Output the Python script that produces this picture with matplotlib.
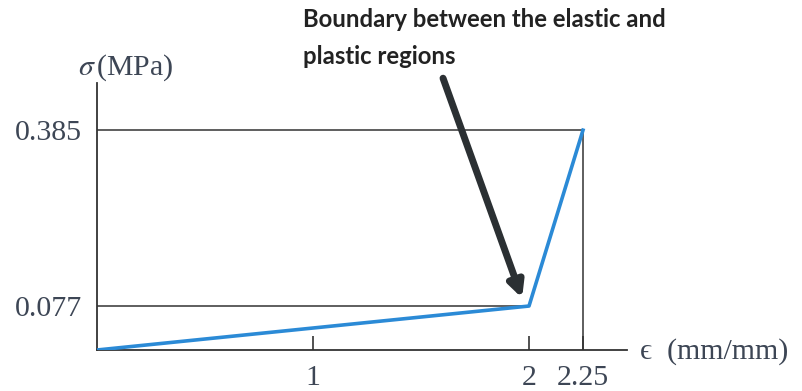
import matplotlib
matplotlib.use("Agg")
import matplotlib.pyplot as plt

# data
strain = [0.0, 2.0, 2.25]
stress = [0.0, 0.077, 0.385]
x_ticks = [1, 2, 2.25]
x_tick_labels = ["1", "2", "2.25"]
y_ticks = [0.077, 0.385]
y_tick_labels = ["0.077", "0.385"]
annotation_text = "Boundary between the elastic and\nplastic regions"

plt.rcParams['mathtext.fontset'] = 'stix'

fig = plt.figure(figsize=(8.02, 3.91), dpi=100)
fig.patch.set_facecolor('white')
ax = fig.add_axes([97/802, 41/391, 530/802, 267/391])

axc = '#333333'
lblc = '#3d4655'
serif = ['Liberation Serif', 'DejaVu Serif']

ax.set_xlim(0, 530/216)
ax.set_ylim(0, 267/571)

for s in ['top', 'right']:
    ax.spines[s].set_visible(False)
for s in ['left', 'bottom']:
    ax.spines[s].set_color(axc)
    ax.spines[s].set_linewidth(1.3)

# reference lines
ax.plot([0, strain[2]], [stress[2], stress[2]], color=axc, lw=1.1)
ax.plot([strain[2], strain[2]], [0, stress[2]], color=axc, lw=1.1)
ax.plot([0, strain[1]], [stress[1], stress[1]], color=axc, lw=1.1)

# stress-strain curve
ax.plot(strain, stress, color='#2b8ad6', lw=2.6, solid_joinstyle='round', zorder=3)

ax.set_xticks(x_ticks)
ax.set_xticklabels(x_tick_labels, family=serif, fontsize=21.5, color=lblc)
ax.set_yticks(y_ticks)
ax.set_yticklabels(y_tick_labels, family=serif, fontsize=21.5, color=lblc)
ax.tick_params(axis='x', direction='in', length=10, width=1.2, color=axc, pad=11)
ax.tick_params(axis='y', length=0, pad=11)

# axis labels
fig.text(78/802, 1 - 68/391, r'$\sigma\,$(MPa)', family=serif, fontsize=21.5,
         color=lblc, ha='left', va='center')
fig.text(640/802, 1 - 352/391, '\u03f5  (mm/mm)', family=serif, fontsize=21.5,
         color=lblc, ha='left', va='center')

# annotation
fig.text(303/802, 1 - 8/391, annotation_text, family='Lato', fontweight='bold',
         fontsize=17.2, color='#222222', ha='left', va='top', linespacing=1.75)
ax.annotate('', xy=(1.968, 0.091), xytext=(1.602, 0.476),
            arrowprops=dict(arrowstyle='-|>,head_length=0.9,head_width=0.45',
                            color='#2b3033', lw=5, shrinkA=0, shrinkB=0),
            annotation_clip=False)

fig.savefig('out.png', dpi=100, facecolor='white')
